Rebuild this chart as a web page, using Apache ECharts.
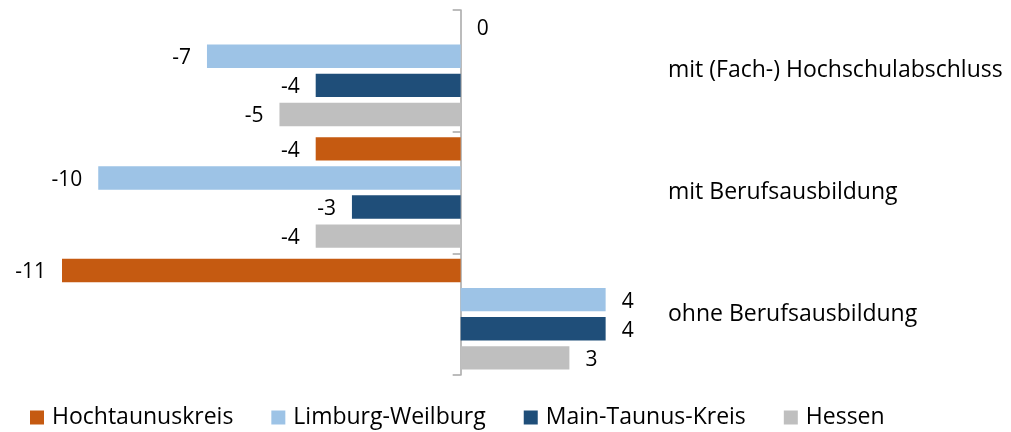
<!DOCTYPE html>
<html>
<head>
<meta charset="utf-8">
<script src="https://cdn.jsdelivr.net/npm/echarts@6/dist/echarts.min.js"></script>
<style>
  html, body { margin: 0; padding: 0; background: #fff; }
  #chart { width: 1011px; height: 432px; }
</style>
</head>
<body>
<div id="chart"></div>
<script>
// Kategorien (von oben nach unten)
const categories = ['mit (Fach-) Hochschulabschluss', 'mit Berufsausbildung', 'ohne Berufsausbildung'];
// Werte je Region
const hochtaunus = [0, -4, -11];
const limburg = [-7, -10, 4];
const mainTaunus = [-4, -3, 4];
const hessen = [-5, -4, 3];

const seriesNames = ['Hochtaunuskreis', 'Limburg-Weilburg', 'Main-Taunus-Kreis', 'Hessen'];
const seriesColors = ['#C55A11', '#9DC3E6', '#1F4E79', '#BFBFBF'];
const seriesValues = [hochtaunus, limburg, mainTaunus, hessen];

const font = 'Open Sans';

// Beschriftung links bei negativen Werten, rechts sonst
function toData(values) {
  return values.map(v => ({
    value: v,
    label: { position: v < 0 ? 'left' : 'right' }
  }));
}

const chart = echarts.init(document.getElementById('chart'));
const option = {
  animation: false,
  textStyle: { fontFamily: font },
  grid: {
    left: 62,
    right: 351,
    top: 10,
    bottom: 57
  },
  legend: {
    left: 30,
    top: 406,
    padding: 0,
    itemWidth: 14,
    itemHeight: 14,
    itemGap: 38,
    icon: 'rect',
    textStyle: { fontSize: 23, color: '#000', fontFamily: font, padding: [0, 0, 0, 3] },
    data: seriesNames
  },
  xAxis: {
    type: 'value',
    min: -11,
    max: 5.5,
    show: false
  },
  yAxis: [
    {
      type: 'category',
      inverse: true,
      data: categories,
      axisLine: { show: true, onZero: true, lineStyle: { color: '#A6A6A6', width: 1.5 } },
      axisTick: { show: true, length: 8, lineStyle: { color: '#A6A6A6', width: 1.5 } },
      axisLabel: { show: false }
    },
    {
      type: 'category',
      inverse: true,
      position: 'right',
      data: categories,
      axisLine: { show: false, onZero: false },
      axisTick: { show: false },
      axisLabel: { show: true, margin: 8, fontSize: 23, color: '#000', fontFamily: font }
    }
  ],
  series: seriesNames.map((name, i) => ({
    name: name,
    type: 'bar',
    yAxisIndex: 0,
    data: toData(seriesValues[i]),
    itemStyle: { color: seriesColors[i] },
    barGap: '24.5%',
    barCategoryGap: '9%',
    label: {
      show: true,
      distance: 16,
      offset: [0, 2],
      fontSize: 21,
      color: '#000',
      fontFamily: font
    }
  }))
};
chart.setOption(option);
window.addEventListener('resize', () => chart.resize());
</script>
</body>
</html>
